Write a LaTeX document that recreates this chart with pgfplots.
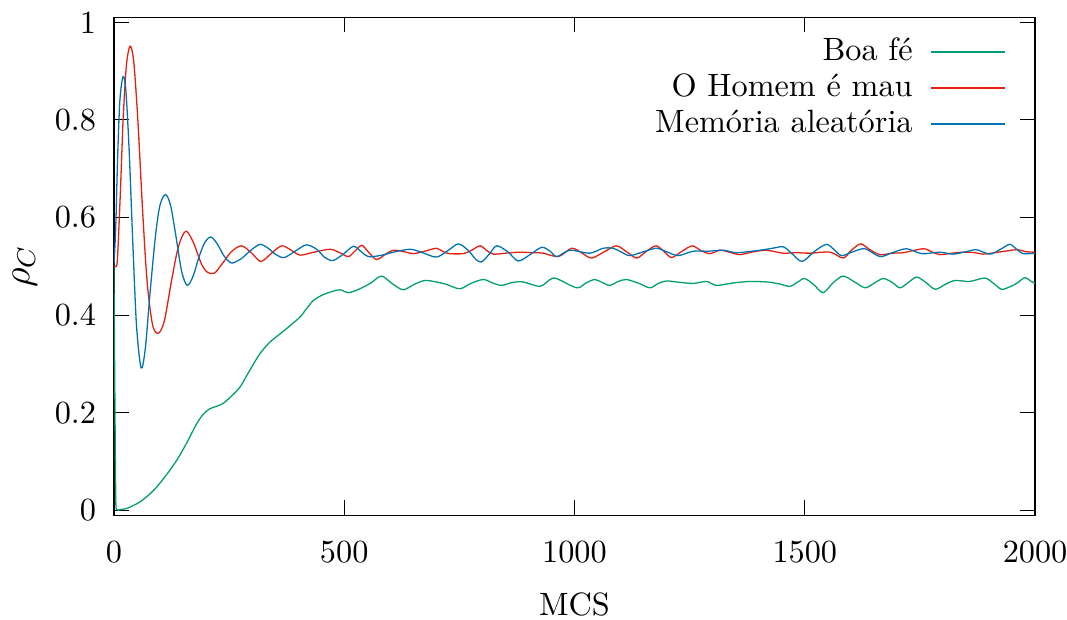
\documentclass[border=0pt]{standalone}
\usepackage{pgfplots}
\pgfplotsset{compat=1.18}
\definecolor{gpgreen}{HTML}{009E73}
\definecolor{gpred}{HTML}{E51E10}
\definecolor{gpblue}{HTML}{0072B2}
\begin{document}
\begin{tikzpicture}
\begin{axis}[
  scale only axis,
  width=285.5pt, height=154.3pt,
  xmin=0, xmax=2000, ymin=-0.01, ymax=1.01,
  xtick={0,500,1000,1500,2000},
  xticklabels={0,500,1000,1500,2000},
  ytick={0,0.2,0.4,0.6,0.8,1},
  yticklabels={0,0.2,0.4,0.6,0.8,1},
  tick align=inside,
  major tick length=4.65pt,
  axis line style={line width=0.45pt},
  every tick/.style={black, line width=0.35pt},
  xticklabel style={yshift=-4.4pt},
  yticklabel style={xshift=-2pt},
  xlabel={MCS},
  xlabel style={at={(axis description cs:0.5,-0.179)}, anchor=center},
  ylabel={\large$\rho_C$},
  ylabel style={at={(axis description cs:-0.0967,0.5)}, anchor=center},
  legend plot pos=right,
  legend cell align=right,
  legend image code/.code={\draw[#1, line width=0.45pt] (0pt,0pt) -- (23pt,0pt);},
  legend style={draw=none, fill=none, inner sep=0pt,
    at={(rel axis cs:1,1)}, anchor=north east, xshift=-8.9pt, yshift=-5pt,
    nodes={inner sep=1pt, text height=7pt, text depth=2pt},
    row sep=0.2pt, column sep=4.4pt},
  every axis plot/.append style={line width=0.4pt, smooth, tension=0.5},
]
% Boa fe
\addplot[gpgreen] coordinates {
(0,0.5) (2,0.25) (4,0.03) (6,0.002) (15,0.002) (28,0.004) (42,0.01) (56,0.017)
(75,0.031) (93,0.048) (115,0.074) (136,0.102) (158,0.138) (180,0.178) (195,0.198)
(208,0.208) (222,0.213) (237,0.219) (255,0.234) (274,0.253) (295,0.287) (317,0.321)
(339,0.345) (360,0.361) (382,0.378) (404,0.396) (418,0.413) (433,0.430) (450,0.440)
(469,0.447) (491,0.452) (509,0.446) (534,0.454) (558,0.466) (581,0.480) (605,0.464)
(628,0.452) (652,0.463) (675,0.471) (700,0.468) (722,0.463) (751,0.454) (775,0.465)
(802,0.473) (822,0.466) (842,0.461) (865,0.467) (889,0.468) (925,0.459) (947,0.473)
(961,0.475) (1005,0.456) (1025,0.466) (1044,0.473) (1060,0.467) (1077,0.461)
(1095,0.469) (1113,0.473) (1140,0.465) (1164,0.456) (1182,0.465) (1200,0.470)
(1230,0.467) (1258,0.465) (1287,0.469) (1308,0.461) (1345,0.466) (1381,0.469)
(1417,0.468) (1445,0.464) (1468,0.459) (1485,0.468) (1500,0.475) (1520,0.462)
(1540,0.446) (1560,0.465) (1583,0.480) (1608,0.468) (1631,0.456) (1650,0.465)
(1670,0.475) (1690,0.467) (1707,0.456) (1725,0.467) (1743,0.478) (1763,0.467)
(1783,0.453) (1805,0.463) (1826,0.471) (1858,0.469) (1891,0.476) (1910,0.465)
(1927,0.453) (1945,0.458) (1960,0.465) (1978,0.477) (1990,0.470) (2000,0.465)
};
\addlegendentry{Boa fé}
% O Homem e mau
\addplot[gpred] coordinates {
(0,0.5) (5,0.5) (8,0.52) (14,0.65) (20,0.80) (27,0.91) (35,0.951) (43,0.92)
(52,0.80) (62,0.62) (72,0.47) (84,0.38) (97,0.363) (110,0.39) (125,0.47) (140,0.54)
(156,0.572) (172,0.55) (190,0.505) (203,0.488) (218,0.486) (235,0.505) (255,0.530)
(277,0.542) (298,0.528) (319,0.510) (340,0.525) (364,0.542) (385,0.533) (404,0.523)
(430,0.528) (469,0.535) (490,0.528) (509,0.520) (522,0.530) (538,0.543) (552,0.530)
(570,0.514) (590,0.525) (607,0.533) (630,0.530) (650,0.526) (675,0.531) (700,0.537)
(715,0.530) (729,0.526) (758,0.526) (775,0.532) (795,0.542) (810,0.532) (824,0.525)
(850,0.527) (881,0.529) (905,0.528) (932,0.527) (965,0.520) (994,0.537) (1015,0.528)
(1037,0.517) (1065,0.530) (1091,0.542) (1113,0.530) (1135,0.517) (1155,0.530)
(1177,0.542) (1195,0.530) (1211,0.518) (1235,0.532) (1256,0.542) (1275,0.532)
(1294,0.526) (1316,0.533) (1340,0.528) (1359,0.524) (1390,0.530) (1417,0.533)
(1453,0.527) (1480,0.528) (1511,0.527) (1555,0.529) (1583,0.517) (1600,0.532)
(1621,0.546) (1640,0.535) (1663,0.524) (1690,0.527) (1714,0.528) (1757,0.536)
(1775,0.530) (1793,0.524) (1820,0.527) (1844,0.529) (1870,0.528) (1887,0.525)
(1920,0.529) (1960,0.534) (1980,0.530) (2000,0.529)
};
\addlegendentry{O Homem é mau}
% Memoria aleatoria
\addplot[gpblue] coordinates {
(0,0.5) (4,0.58) (8,0.72) (13,0.84) (20,0.889) (26,0.86) (33,0.74) (41,0.55)
(49,0.38) (59,0.292) (68,0.33) (78,0.44) (90,0.56) (100,0.625) (112,0.647)
(123,0.625) (135,0.56) (147,0.49) (159,0.461) (172,0.48) (185,0.52) (198,0.550)
(211,0.560) (225,0.545) (240,0.520) (255,0.507) (270,0.512) (281,0.519) (300,0.535)
(318,0.545) (335,0.537) (352,0.524) (370,0.518) (395,0.532) (418,0.544) (440,0.535)
(458,0.518) (476,0.512) (498,0.525) (520,0.541) (537,0.530) (552,0.520) (577,0.522)
(607,0.529) (643,0.535) (670,0.528) (700,0.519) (725,0.532) (748,0.546) (770,0.532)
(785,0.515) (798,0.509) (815,0.525) (831,0.542) (855,0.530) (878,0.511) (905,0.525)
(929,0.539) (947,0.531) (962,0.520) (990,0.533) (1033,0.527) (1062,0.537)
(1084,0.537) (1100,0.530) (1120,0.522) (1150,0.530) (1178,0.537) (1200,0.530)
(1225,0.522) (1258,0.531) (1290,0.531) (1323,0.533) (1352,0.528) (1402,0.533)
(1430,0.537) (1453,0.540) (1470,0.528) (1494,0.510) (1520,0.530) (1547,0.545)
(1565,0.533) (1580,0.522) (1605,0.530) (1631,0.536) (1663,0.520) (1690,0.528)
(1721,0.536) (1754,0.526) (1793,0.529) (1822,0.525) (1850,0.530) (1873,0.534)
(1902,0.525) (1925,0.535) (1945,0.545) (1960,0.535) (1974,0.526) (2000,0.527)
};
\addlegendentry{Memória aleatória}
\end{axis}
\pgfresetboundingbox
\path ([shift={(-35.3pt,-32.2pt)}]current axis.south west)
  rectangle ([shift={(9.9pt,5.4pt)}]current axis.north east);
\end{tikzpicture}
\end{document}
